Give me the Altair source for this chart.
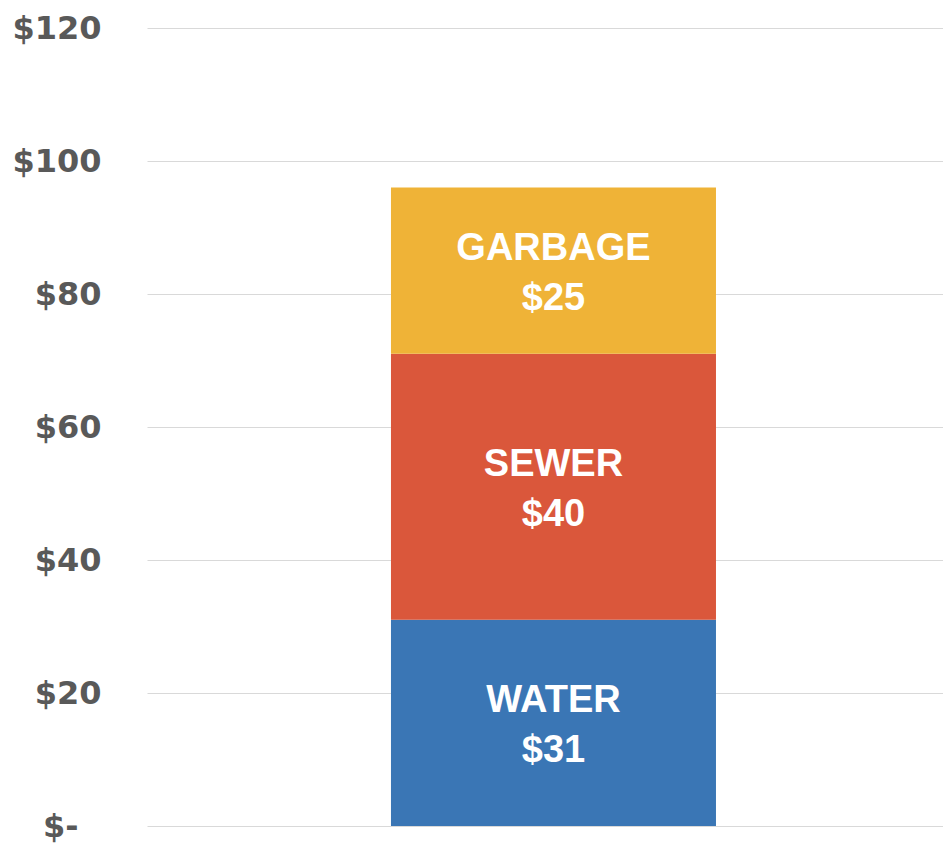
import altair as alt
import pandas as pd

categories = ["Water", "Sewer", "Garbage"]
values = [31, 40, 25]
colors = ["#3A76B5", "#DA573B", "#EFB337"]
y_ticks = [0, 20, 40, 60, 80, 100, 120]

df = pd.DataFrame({
    "bill": ["Monthly"] * len(categories),
    "cat": categories,
    "value": values,
    "order": list(range(len(categories))),
})

base = alt.Chart(df).transform_stack(
    stack="value", as_=["y0", "y1"], groupby=["bill"],
    sort=[alt.SortField("order", order="ascending")],
).transform_calculate(
    mid="(datum.y0 + datum.y1) / 2",
    label="upper(datum.cat) + '\\n$' + datum.value",
)

xenc = alt.X("bill:N", axis=None,
             scale=alt.Scale(paddingInner=0, paddingOuter=0.7246, align=0.518))

bars = base.mark_bar().encode(
    x=xenc,
    y=alt.Y("y0:Q", scale=alt.Scale(domain=[0, 120], nice=False),
            axis=alt.Axis(values=y_ticks, title=None, domain=False, ticks=False,
                          grid=True, gridColor="#D9D9D9", gridWidth=1,
                          labelFont="DejaVu Sans", labelFontWeight="bold",
                          labelFontSize=32, labelColor="#595959",
                          labelPadding={"condition": {"test": "datum.value == 0", "value": 69},
                                        "value": 46},
                          labelExpr="datum.value == 0 ? '$-' : '$' + datum.value")),
    y2="y1:Q",
    color=alt.Color("cat:N", scale=alt.Scale(domain=categories, range=colors), legend=None),
)

text = base.mark_text(
    font="Liberation Sans", fontWeight="bold", fontSize=38, color="white",
    lineBreak="\n", lineHeight=50, baseline="middle", align="center", dy=-22,
).encode(
    x=xenc,
    y=alt.Y("mid:Q"),
    text="label:N",
)

chart = alt.layer(bars, text).properties(
    width=796, height=798,
    autosize=alt.AutoSizeParams(type="none"),
    padding={"left": 139, "top": 20, "right": 0, "bottom": 19},
).configure_view(stroke=None)

chart.save("out.html", embed_options={"renderer": "svg", "actions": False})
